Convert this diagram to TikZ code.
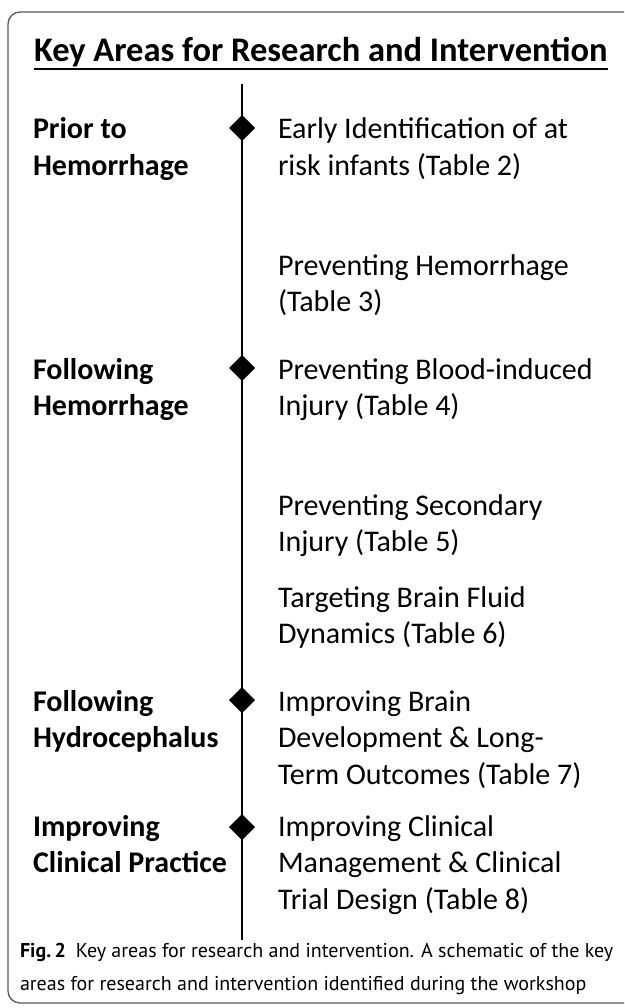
\documentclass[tikz,border=0pt]{standalone}
\usepackage{fontspec}
\setmainfont{Carlito}
\newfontfamily\capfont{PT Sans}
\usetikzlibrary{shapes.geometric}
\begin{document}
\begin{tikzpicture}[x=1pt,y=-1pt,
  every node/.style={inner sep=0pt,outer sep=0pt},
  phase/.style={anchor=base west,align=left,font=\fontsize{30}{36.6}\selectfont\bfseries},
  area/.style={anchor=base west,align=left,font=\fontsize{30}{36.6}\selectfont},
  marker/.style={diamond,fill=black,draw=none,minimum width=26pt,minimum height=26pt},
  frame/.style={draw=black!65,line width=1.3pt,rounded corners=12pt}
]
\useasboundingbox (0,0) rectangle (624,1008);
\begin{scope}
\clip (0,0) rectangle (624,1008);
\draw[frame] (8,12) rectangle (660,1003);
\end{scope}

% title
\node[anchor=base west,font=\fontsize{34.5}{40}\selectfont\bfseries] (title) at (34,62) {Key Areas for Research and Intervention};
\draw[line width=2.4pt] ([yshift=-7pt]title.base west) -- ([yshift=-7pt]title.base east);

% timeline
\coordinate (ltop) at (242,84);
\coordinate (lbot) at (242,940);
\draw[line width=2pt] (ltop) -- (lbot);

\node[marker] (d1) at (242,128) {};
\node[marker] (d2) at (242,368) {};
\node[marker] (d3) at (242,700) {};
\node[marker] (d4) at (242,827) {};

% phases (base anchor = baseline of the last line)
\node[phase] (p1) at (33,175.6) {Prior to\\Hemorrhage};
\node[phase] (p2) at (33,415.6) {Following\\Hemorrhage};
\node[phase] (p3) at (33,747.6) {Following\\Hydrocephalus};
\node[phase] (p4) at (33,872.6) {Improving\\Clinical Practice};

% areas
\node[area] (a1) at (278,175.6) {Early Identification of at\\risk infants (Table 2)};
\node[area] (a2) at (278,311.6) {Preventing Hemorrhage\\(Table 3)};
\node[area] (a3) at (278,415.6) {Preventing Blood-induced\\Injury (Table 4)};
\node[area] (a4) at (278,551.6) {Preventing Secondary\\Injury (Table 5)};
\node[area] (a5) at (278,643.6) {Targeting Brain Fluid\\Dynamics (Table 6)};
\node[area] (a6) at (278,784.2) {Improving Brain\\Development \& Long-\\Term Outcomes (Table 7)};
\node[area] (a7) at (278,909.2) {Improving Clinical\\Management \& Clinical\\Trial Design (Table 8)};

% caption
\node[anchor=base west,align=left,font=\capfont\fontsize{20}{33}\selectfont] (cap) at (20,990)
  {\textbf{Fig.\,2}\enspace Key areas for research and intervention. A schematic of the key\\areas for research and intervention identified during the workshop};
\end{tikzpicture}
\end{document}
